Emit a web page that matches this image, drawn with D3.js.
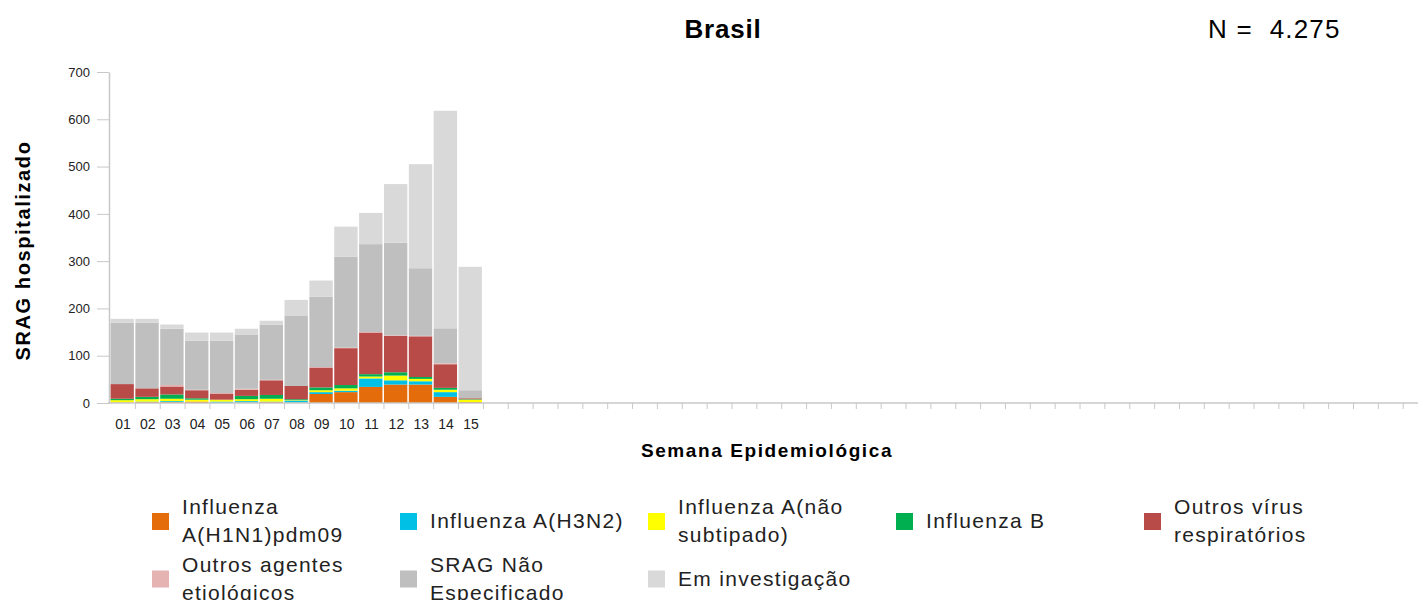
<!DOCTYPE html>
<html>
<head>
<meta charset="utf-8">
<script src="https://cdnjs.cloudflare.com/ajax/libs/d3/7.8.5/d3.min.js"></script>
<style>
  html, body { margin: 0; padding: 0; background: #fff; }
  svg { display: block; font-family: "Liberation Sans", Arial, sans-serif; }
  .axis path, .axis line { stroke: #c8c8c8; }
  .axis text { fill: #222; }
</style>
</head>
<body>
<div id="chart"></div>
<script>
'use strict';

// semanas epidemiologicas com dados
var weeks = ['01','02','03','04','05','06','07','08','09','10','11','12','13','14','15'];
var totalWeeks = 53;

var h1n1      = [1, 2, 2, 3, 0, 1, 2, 1, 19, 23, 34, 39, 39, 13, 2];
var h3n2      = [0, 1, 2, 0, 3, 3, 1, 4, 4, 3, 18, 9, 7, 10, 0];
var fluANs    = [5, 5, 5, 4, 4, 4, 6, 1, 4, 5, 4, 10, 5, 5, 5];
var fluB      = [3, 5, 9, 3, 0, 7, 8, 2, 6, 7, 5, 7, 4, 4, 1];
var outrosVir = [31, 18, 17, 17, 13, 13, 31, 28, 42, 78, 88, 77, 86, 50, 2];
var outrosAg  = [0, 0, 3, 1, 1, 2, 1, 0, 1, 1, 1, 1, 1, 2, 0];
var naoEspec  = [130, 139, 119, 104, 111, 115, 117, 148, 149, 192, 186, 196, 143, 74, 17];
var emInvest  = [8, 8, 9, 17, 17, 12, 8, 34, 34, 64, 66, 124, 220, 460, 261];

var seriesNames = [
  'Influenza A(H1N1)pdm09', 'Influenza A(H3N2)', 'Influenza A(não subtipado)',
  'Influenza B', 'Outros vírus respiratórios', 'Outros agentes etiológicos',
  'SRAG Não Especificado', 'Em investigação'
];
var seriesColors = ['#e46c0a', '#00c0e6', '#ffff00', '#00b050', '#b84b48', '#e6b3b3', '#bfbfbf', '#d9d9d9'];
var yTicks = [0, 100, 200, 300, 400, 500, 600, 700];

var title = 'Brasil';
var nLabel = 'N =  4.275';

var Chart = (function() {
  function Chart(options) {
    this.opt = options;
    this.init();
  }

  Chart.prototype.init = function() {
    var values = [h1n1, h3n2, fluANs, fluB, outrosVir, outrosAg, naoEspec, emInvest];
    this.rows = weeks.map(function(w, i) {
      var row = { week: w, index: i };
      values.forEach(function(v, k) { row[k] = v[i]; });
      return row;
    });
    this.draw();
  };

  Chart.prototype.draw = function() {
    var W = 1418, H = 600;
    var left = 110, top = 72, bottom = 403;
    var step = 24.86;

    var svg = d3.select(this.opt.el).append('svg')
      .attr('width', W)
      .attr('height', H);

    var x = d3.scaleLinear().domain([0, totalWeeks]).range([left, left + totalWeeks * step]);
    var y = d3.scaleLinear().domain([0, 700]).range([bottom, top]);

    var keys = d3.range(seriesNames.length);
    var stacked = d3.stack().keys(keys)(this.rows);

    // barras
    var layer = svg.append('g').selectAll('g')
      .data(stacked)
      .enter().append('g')
        .attr('fill', function(d, i) { return seriesColors[i]; });

    layer.selectAll('rect')
      .data(function(d) { return d; })
      .enter().append('rect')
        .attr('x', function(d) { return x(d.data.index) + 0.5; })
        .attr('width', function(d) { return x(d.data.index + 1) - x(d.data.index) - 1.5; })
        .attr('y', function(d) { return y(d[1]); })
        .attr('height', function(d) { return y(d[0]) - y(d[1]); });

    // eixo y
    var yAxis = svg.append('g')
      .attr('class', 'axis')
      .attr('transform', 'translate(' + (left - 1) + ',0)')
      .call(d3.axisLeft(y).tickValues(yTicks).tickSize(12).tickPadding(7).tickSizeOuter(0));
    yAxis.select('.domain').attr('stroke-width', 1.5);
    yAxis.selectAll('text').style('font-size', '13px');

    // eixo x (marcas nos limites das semanas)
    var xAxis = svg.append('g')
      .attr('class', 'axis')
      .attr('transform', 'translate(0,' + bottom + ')')
      .call(d3.axisBottom(x).tickValues(d3.range(1, totalWeeks + 1)).tickFormat('').tickSize(6).tickSizeOuter(0));
    xAxis.select('.domain').attr('d', 'M' + (left - 2) + ',0H' + W).attr('stroke-width', 1.5);

    var xLabels = svg.append('g')
      .attr('class', 'axis')
      .attr('transform', 'translate(0,' + bottom + ')')
      .call(d3.axisBottom(x)
        .tickValues(weeks.map(function(w, i) { return i + 0.5; }))
        .tickFormat(function(d) { return weeks[Math.floor(d)]; })
        .tickSize(0).tickPadding(16));
    xLabels.select('.domain').remove();
    xLabels.selectAll('text').style('font-size', '14px');

    // titulos
    svg.append('text')
      .attr('x', 723).attr('y', 38)
      .attr('text-anchor', 'middle')
      .style('font-size', '26px').style('font-weight', 'bold')
      .style('letter-spacing', '0.8px')
      .text(title);

    svg.append('text')
      .attr('x', 1208).attr('y', 38)
      .style('font-size', '26px')
      .style('letter-spacing', '1.2px')
      .style('white-space', 'pre')
      .text(nLabel);

    svg.append('text')
      .attr('transform', 'translate(30,' + ((top + bottom) / 2 + 13) + ') rotate(-90)')
      .attr('text-anchor', 'middle')
      .style('font-size', '20px').style('font-weight', 'bold')
      .style('letter-spacing', '1.6px')
      .text('SRAG hospitalizado');

    svg.append('text')
      .attr('x', 767).attr('y', 457)
      .attr('text-anchor', 'middle')
      .style('font-size', '19px').style('font-weight', 'bold')
      .style('letter-spacing', '1.6px')
      .text('Semana Epidemiológica');

    this.drawLegend(svg);
  };

  Chart.prototype.drawLegend = function(svg) {
    var colW = 248, rowH = 57.5, perRow = 5;
    var x0 = 152, y0 = 521;
    var maxW = 215;

    var item = svg.append('g').selectAll('g')
      .data(seriesNames)
      .enter().append('g')
        .attr('transform', function(d, i) {
          return 'translate(' + (x0 + (i % perRow) * colW) + ',' + (y0 + Math.floor(i / perRow) * rowH) + ')';
        });

    item.append('rect')
      .attr('x', 0).attr('y', -8)
      .attr('width', 17).attr('height', 17)
      .attr('fill', function(d, i) { return seriesColors[i]; });

    item.each(function(name) {
      var g = d3.select(this);
      var text = g.append('text')
        .attr('x', 30)
        .style('font-size', '21px')
        .style('letter-spacing', '1.3px')
        .attr('fill', '#222');

      // quebra de linha simples
      var words = name.split(' ');
      var lines = [];
      var line = [];
      var probe = text.append('tspan');
      words.forEach(function(w) {
        line.push(w);
        probe.text(line.join(' '));
        if (probe.node().getComputedTextLength() > maxW && line.length > 1) {
          line.pop();
          lines.push(line.join(' '));
          line = [w];
        }
      });
      lines.push(line.join(' '));
      probe.remove();

      var lh = 28;
      var start = -(lines.length - 1) * lh / 2 + 7;
      lines.forEach(function(l, k) {
        text.append('tspan')
          .attr('x', 30)
          .attr('y', start + k * lh)
          .text(l);
      });
    });
  };

  return Chart;
})();

var chart = new Chart({ el: '#chart' });
</script>
</body>
</html>
